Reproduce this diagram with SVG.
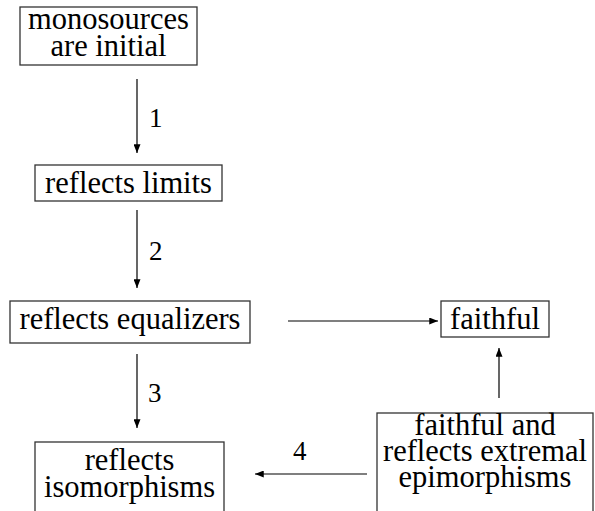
<svg xmlns="http://www.w3.org/2000/svg" width="595" height="511" viewBox="0 0 595 511">
<style>
  .box { fill: #fff; stroke: #333; stroke-width: 1.3; }
  .t { font-family: 'Liberation Serif', 'DejaVu Serif', serif; font-size: 30.5px; fill: #000; text-anchor: middle; }
  .lbl { font-family: 'Liberation Serif', 'DejaVu Serif', serif; font-size: 27px; fill: #000; }
  .edge { stroke: #000; stroke-width: 1.2; fill: none; marker-end: url(#ah); }
</style>
<defs>
  <marker id="ah" viewBox="0 0 10 8" refX="10" refY="4" markerWidth="10" markerHeight="7" markerUnits="userSpaceOnUse" orient="auto">
    <path d="M0,0 L10,4 L0,8 Z" fill="#000"/>
  </marker>
</defs>
<rect width="595" height="511" fill="#fff"/>
<g id="connectors">
  <line class="edge" x1="137" y1="79" x2="137" y2="153"/>
  <line class="edge" x1="137" y1="210" x2="137" y2="288"/>
  <line class="edge" x1="137" y1="354" x2="137" y2="428"/>
  <line class="edge" x1="288" y1="321" x2="438" y2="321"/>
  <line class="edge" x1="499" y1="398" x2="499" y2="348"/>
  <line class="edge" x1="367" y1="474" x2="255" y2="474"/>
  <text class="lbl" x="149" y="127">1</text>
  <text class="lbl" x="149" y="260">2</text>
  <text class="lbl" x="148" y="402">3</text>
  <text class="lbl" x="293" y="460">4</text>
</g>
<g id="n-monosources">
  <rect class="box" x="20" y="7" width="177" height="58"/>
  <text class="t" x="108.5" y="29">monosources</text>
  <text class="t" x="108.5" y="56">are initial</text>
</g>
<g id="n-limits">
  <rect class="box" x="35" y="165" width="187" height="36"/>
  <text class="t" x="128.5" y="193">reflects limits</text>
</g>
<g id="n-equalizers">
  <rect class="box" x="10" y="301" width="240" height="42"/>
  <text class="t" x="130" y="329">reflects equalizers</text>
</g>
<g id="n-faithful">
  <rect class="box" x="441" y="301" width="108" height="36"/>
  <text class="t" x="495" y="329">faithful</text>
</g>
<g id="n-isomorphisms">
  <rect class="box" x="35" y="442" width="189" height="80"/>
  <text class="t" x="129.5" y="470">reflects</text>
  <text class="t" x="129.5" y="497">isomorphisms</text>
</g>
<g id="n-extremal">
  <rect class="box" x="377" y="413" width="216" height="110"/>
  <text class="t" x="485" y="435">faithful and</text>
  <text class="t" x="485" y="461">reflects extremal</text>
  <text class="t" x="485" y="487">epimorphisms</text>
</g>
</svg>
